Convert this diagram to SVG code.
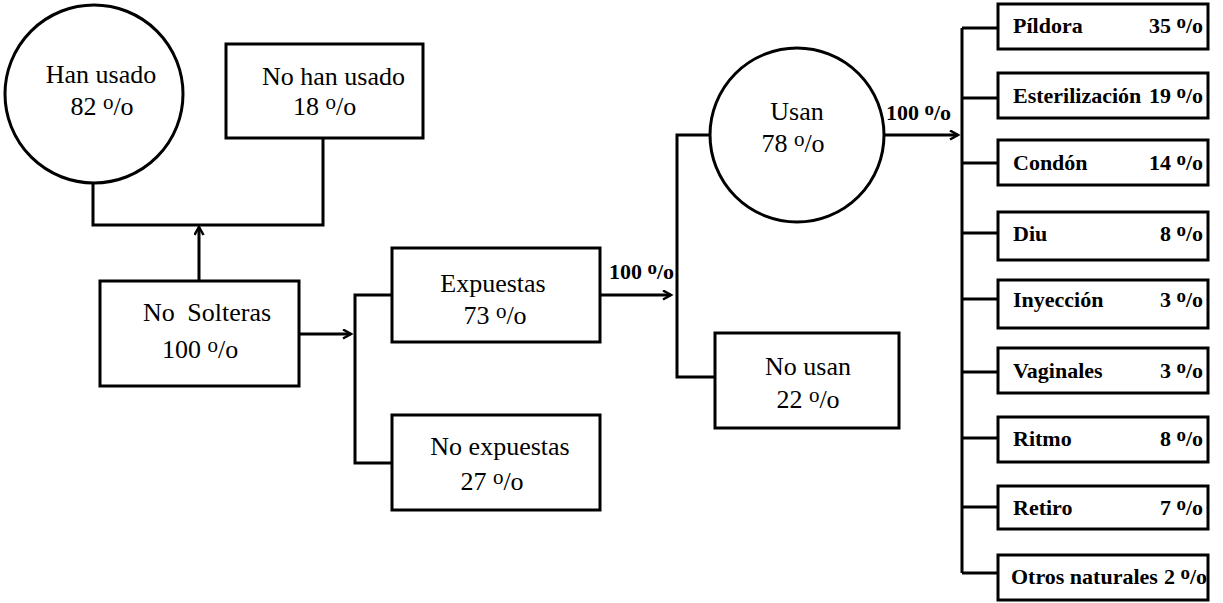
<svg xmlns="http://www.w3.org/2000/svg" width="1223" height="603" viewBox="0 0 1223 603">
<style>
.shape{fill:#fff;stroke:#000;stroke-width:3}
.ln{fill:none;stroke:#000;stroke-width:3}
.t{font-family:"Liberation Serif","Times New Roman",serif;font-size:26px;fill:#000}
.m{text-anchor:middle}
.b{font-family:"Liberation Serif","Times New Roman",serif;font-size:22px;font-weight:bold;fill:#000}
.e{text-anchor:end}
.sup{font-size:21px}
.supb{font-size:19px}
</style>
<defs>
<marker id="arr" markerUnits="userSpaceOnUse" markerWidth="12" markerHeight="12" refX="9" refY="5" orient="auto">
<path d="M1,0.5 L9,5 L1,9.5" fill="none" stroke="#000" stroke-width="2.5"/>
</marker>
</defs>
<rect width="1223" height="603" fill="#fff"/>
<g id="connectors">
<path class="ln" d="M93 183 V225 H323 V138"/>
<path class="ln" d="M199 281 V227" marker-end="url(#arr)"/>
<path class="ln" d="M299 334 H351" marker-end="url(#arr)"/>
<path class="ln" d="M392 295 H355 V463 H392"/>
<path class="ln" d="M600 295 H671" marker-end="url(#arr)"/>
<text class="b" x="609" y="279">100 <tspan class="supb" dy="-5">o</tspan><tspan dy="5">/o</tspan></text>
<path class="ln" d="M711 135 H677 V377 H715"/>
<path class="ln" d="M884 135 H958" marker-end="url(#arr)"/>
<text class="b" x="886" y="120">100 <tspan class="supb" dy="-5">o</tspan><tspan dy="5">/o</tspan></text>
<path class="ln" d="M962 28 V573 M962 28 H998 M962 98 H998 M962 163 H998 M962 233 H998 M962 299 H998 M962 372 H998 M962 438 H998 M962 507 H998 M962 573 H998"/>
</g>
<g id="han-usado">
<circle class="shape" cx="94" cy="94" r="89"/>
<text class="t m" x="101" y="83">Han usado</text>
<text class="t m" x="102" y="115">82 <tspan class="sup" dy="-6">o</tspan><tspan dy="6">/o</tspan></text>
</g>
<g id="no-han-usado">
<rect class="shape" x="226" y="44" width="197" height="94"/>
<text class="t" x="262" y="85">No han usado</text>
<text class="t" x="293" y="115">18 <tspan class="sup" dy="-6">o</tspan><tspan dy="6">/o</tspan></text>
</g>
<g id="no-solteras">
<rect class="shape" x="100" y="281" width="199" height="105"/>
<text class="t" x="143" y="321" word-spacing="6">No Solteras</text>
<text class="t" x="162" y="358">100 <tspan class="sup" dy="-6">o</tspan><tspan dy="6">/o</tspan></text>
</g>
<g id="expuestas">
<rect class="shape" x="392" y="248" width="208" height="94"/>
<text class="t m" x="493" y="292">Expuestas</text>
<text class="t m" x="495" y="324">73 <tspan class="sup" dy="-6">o</tspan><tspan dy="6">/o</tspan></text>
</g>
<g id="no-expuestas">
<rect class="shape" x="392" y="415" width="208" height="95"/>
<text class="t m" x="500" y="455">No expuestas</text>
<text class="t m" x="492" y="490">27 <tspan class="sup" dy="-6">o</tspan><tspan dy="6">/o</tspan></text>
</g>
<g id="usan">
<circle class="shape" cx="797" cy="135" r="87"/>
<text class="t m" x="797" y="120">Usan</text>
<text class="t m" x="793" y="152">78 <tspan class="sup" dy="-6">o</tspan><tspan dy="6">/o</tspan></text>
</g>
<g id="no-usan">
<rect class="shape" x="715" y="333" width="184" height="95"/>
<text class="t m" x="808" y="375">No usan</text>
<text class="t m" x="808" y="408">22 <tspan class="sup" dy="-6">o</tspan><tspan dy="6">/o</tspan></text>
</g>
<g id="pildora">
<rect class="shape" x="998" y="4" width="210" height="45"/>
<text class="b" x="1013" y="33">Píldora</text>
<text class="b e" x="1203" y="33">35 <tspan class="supb" dy="-5">o</tspan><tspan dy="5">/o</tspan></text>
</g>
<g id="esterilizacion">
<rect class="shape" x="998" y="73" width="210" height="45"/>
<text class="b" x="1013" y="103">Esterilización</text>
<text class="b e" x="1203" y="103">19 <tspan class="supb" dy="-5">o</tspan><tspan dy="5">/o</tspan></text>
</g>
<g id="condon">
<rect class="shape" x="998" y="140" width="210" height="45"/>
<text class="b" x="1013" y="170">Condón</text>
<text class="b e" x="1203" y="170">14 <tspan class="supb" dy="-5">o</tspan><tspan dy="5">/o</tspan></text>
</g>
<g id="diu">
<rect class="shape" x="998" y="212" width="210" height="48"/>
<text class="b" x="1013" y="241">Diu</text>
<text class="b e" x="1203" y="241">8 <tspan class="supb" dy="-5">o</tspan><tspan dy="5">/o</tspan></text>
</g>
<g id="inyeccion">
<rect class="shape" x="998" y="280" width="210" height="48"/>
<text class="b" x="1013" y="307">Inyección</text>
<text class="b e" x="1203" y="307">3 <tspan class="supb" dy="-5">o</tspan><tspan dy="5">/o</tspan></text>
</g>
<g id="vaginales">
<rect class="shape" x="998" y="348" width="210" height="45"/>
<text class="b" x="1013" y="378">Vaginales</text>
<text class="b e" x="1203" y="378">3 <tspan class="supb" dy="-5">o</tspan><tspan dy="5">/o</tspan></text>
</g>
<g id="ritmo">
<rect class="shape" x="998" y="417" width="210" height="45"/>
<text class="b" x="1013" y="446">Ritmo</text>
<text class="b e" x="1203" y="446">8 <tspan class="supb" dy="-5">o</tspan><tspan dy="5">/o</tspan></text>
</g>
<g id="retiro">
<rect class="shape" x="998" y="486" width="210" height="43"/>
<text class="b" x="1013" y="515">Retiro</text>
<text class="b e" x="1203" y="515">7 <tspan class="supb" dy="-5">o</tspan><tspan dy="5">/o</tspan></text>
</g>
<g id="otros-naturales">
<rect class="shape" x="998" y="555" width="210" height="45"/>
<text class="b" x="1011" y="584" font-size="20">Otros naturales</text>
<text class="b e" x="1207" y="584">2 <tspan class="supb" dy="-5">o</tspan><tspan dy="5">/o</tspan></text>
</g>
</svg>
